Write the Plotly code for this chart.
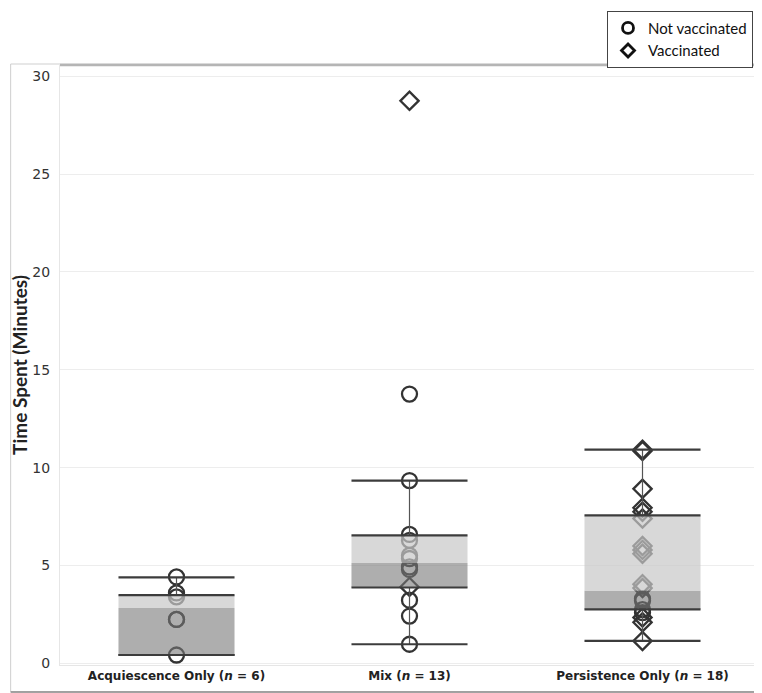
import plotly.graph_objects as go

# groups shown on the x axis
categories = ["Acquiescence Only", "Mix", "Persistence Only"]

# individual times (minutes), split by vaccination status
not_vaccinated = [
    [0.43, 2.25, 2.25, 3.4, 3.6, 4.42],
    [0.98, 2.42, 3.23, 4.8, 4.93, 5.36, 5.52, 6.29, 6.59, 9.34, 13.76],
    [2.6, 2.75, 3.2, 3.3],
]
vaccinated = [
    [],
    [3.91, 28.74],
    [1.15, 2.1, 2.35, 3.85, 4.05, 5.6, 5.8, 6.0, 7.4, 7.75, 7.95, 8.92, 10.85, 10.92],
]

# box summary
whisker_low = [0.43, 0.98, 1.15]
q1 = [0.43, 3.88, 2.76]
median = [2.83, 5.13, 3.71]
q3 = [3.49, 6.54, 7.56]
whisker_high = [4.4, 9.34, 10.92]

tick_values = [0, 5, 10, 15, 20, 25, 30]

HALF = 0.249
LINE = "#3c3c3c"
TEXT = "#222222"

fig = go.Figure()

# points first, the translucent boxes sit on top of them
def xs_for(lists):
    return [i for i, vals in enumerate(lists) for _ in vals]

def ys_for(lists):
    return [v for vals in lists for v in vals]

fig.add_trace(go.Scatter(
    x=xs_for(not_vaccinated), y=ys_for(not_vaccinated), mode="markers",
    marker=dict(symbol="circle-open", size=15, color="#333333", line=dict(width=2.3, color="#333333")),
    showlegend=False, hoverinfo="y",
))
fig.add_trace(go.Scatter(
    x=xs_for(vaccinated), y=ys_for(vaccinated), mode="markers",
    marker=dict(symbol="diamond-open", size=14, color="#333333", line=dict(width=2.3, color="#333333")),
    showlegend=False, hoverinfo="y",
))

# thin stems between whiskers and box edges
stem_x, stem_y = [], []
for i in range(len(categories)):
    stem_x += [i, i, None, i, i, None]
    stem_y += [whisker_low[i], q1[i], None, q3[i], whisker_high[i], None]
fig.add_trace(go.Scatter(x=stem_x, y=stem_y, mode="lines",
                         line=dict(color="#555555", width=1.2), showlegend=False, hoverinfo="skip"))

# two-tone boxes: Q1-median darker, median-Q3 lighter
for i in range(len(categories)):
    fig.add_trace(go.Scatter(
        x=[i - HALF, i + HALF, i + HALF, i - HALF, i - HALF],
        y=[q1[i], q1[i], median[i], median[i], q1[i]],
        mode="lines", fill="toself", fillcolor="rgba(120,120,120,0.6)",
        line=dict(width=0), showlegend=False, hoverinfo="skip"))
    fig.add_trace(go.Scatter(
        x=[i - HALF, i + HALF, i + HALF, i - HALF, i - HALF],
        y=[median[i], median[i], q3[i], q3[i], median[i]],
        mode="lines", fill="toself", fillcolor="rgba(200,200,200,0.7)",
        line=dict(width=0), showlegend=False, hoverinfo="skip"))

# whisker caps and box edges
cap_x, cap_y = [], []
for i in range(len(categories)):
    for v in (whisker_low[i], q1[i], q3[i], whisker_high[i]):
        cap_x += [i - HALF, i + HALF, None]
        cap_y += [v, v, None]
fig.add_trace(go.Scatter(x=cap_x, y=cap_y, mode="lines",
                         line=dict(color=LINE, width=2.2), showlegend=False, hoverinfo="skip"))

# legend entries
fig.add_trace(go.Scatter(x=[None], y=[None], mode="markers", name="Not vaccinated",
                         marker=dict(symbol="circle-open", size=11, color="#111111",
                                     line=dict(width=2.8, color="#111111"))))
fig.add_trace(go.Scatter(x=[None], y=[None], mode="markers", name="Vaccinated",
                         marker=dict(symbol="diamond-open", size=10, color="#111111",
                                     line=dict(width=2.8, color="#111111"))))

n_counts = [len(a) + len(b) for a, b in zip(not_vaccinated, vaccinated)]
tick_text = [f"<b>{c} (<i>n</i> = {n})</b>" for c, n in zip(categories, n_counts)]

# the page body adds an 8px margin, so the figure is laid out in window
# pixels shifted by that amount
OFF = 8
W, H = 762 - OFF, 693 - OFF
L, R, T, B = 58 - OFF, 3, 63 - OFF, 28
pw, ph = W - L - R, H - T - B

def px_x(p):
    return (p - OFF - L) / pw

def px_y(p):
    return (H - B - (p - OFF)) / ph

fig.update_layout(
    width=W, height=H,
    margin=dict(l=L, r=R, t=T, b=B),
    paper_bgcolor="white", plot_bgcolor="white",
    font=dict(family="DejaVu Sans", color=TEXT),
    xaxis=dict(
        range=[-0.5, 2.5], tickvals=list(range(len(categories))), ticktext=tick_text,
        showgrid=False, zeroline=False, showline=True, linecolor="#e6e6e6", linewidth=1,
        ticks="outside", ticklen=0, tickcolor="rgba(0,0,0,0)",
        tickfont=dict(family="DejaVu Sans", size=12, color=TEXT),
    ),
    yaxis=dict(
        range=[-0.08, 30.57], tickvals=tick_values,
        showgrid=True, gridcolor="#ededed", gridwidth=1, zeroline=False,
        showline=True, linecolor="#e6e6e6", linewidth=1,
        ticks="outside", ticklen=6, tickcolor="rgba(0,0,0,0)",
        tickfont=dict(family="DejaVu Sans", size=14, color="#333333"),
        title=dict(text="<b>Time Spent (Minutes)</b>", standoff=8,
                   font=dict(family="Lato", size=19, color=TEXT)),
    ),
    legend=dict(
        x=px_x(753), xanchor="right", y=1 + (T - 0.5) / ph, yanchor="top",
        bgcolor="white", bordercolor="#444444", borderwidth=1,
        font=dict(family="Lato", size=15, color="#111111"),
        itemwidth=30, tracegroupgap=0,
    ),
    shapes=[
        dict(type="rect", xref="paper", yref="paper",
             x0=-(L - 0.5) / pw, x1=px_x(759), y0=px_y(692), y1=px_y(62),
             line=dict(color="#cfcfcf", width=1), layer="below"),
        dict(type="line", xref="paper", yref="paper",
             x0=px_x(58), x1=px_x(759), y0=px_y(63), y1=px_y(63),
             line=dict(color="#b5b5b5", width=2.5)),
        dict(type="line", xref="paper", yref="paper",
             x0=px_x(759), x1=px_x(759), y0=px_y(692), y1=px_y(62),
             line=dict(color="#8a8a8a", width=1.5)),
        dict(type="line", xref="paper", yref="paper",
             x0=-(L - 0.5) / pw, x1=px_x(759), y0=px_y(692), y1=px_y(692),
             line=dict(color="#8a8a8a", width=1.5)),
    ],
)

fig.write_html("out.html")
